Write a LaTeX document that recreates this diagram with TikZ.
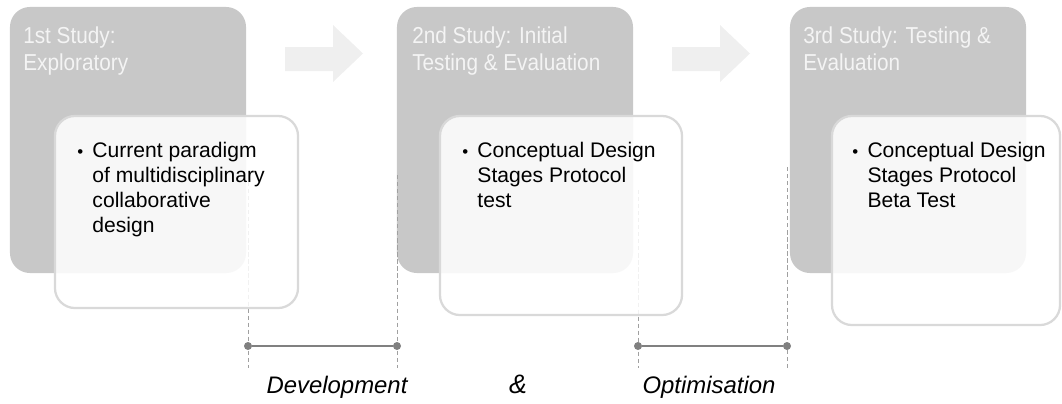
\documentclass[tikz,border=0pt]{standalone}
\usepackage{fontspec}
\setmainfont{Liberation Sans}
\newfontfamily\headfont{Liberation Sans}[FakeStretch=0.9]
\usepackage{tikz}
\usetikzlibrary{calc,positioning}
\definecolor{boxgray}{HTML}{C8C8C8}
\definecolor{arrowgray}{HTML}{EFEFEF}
\definecolor{edgegray}{HTML}{D9D9D9}
\definecolor{dashgray}{HTML}{A0A0A0}
\definecolor{bargray}{HTML}{808080}
\definecolor{headwhite}{HTML}{F4F4F4}
\newcommand{\bulletline}[1]{\begin{tabular}{@{}p{0.38cm}@{}l@{}}{\fontsize{12}{17.8}\selectfont\textbullet} & #1\end{tabular}}
\tikzset{
  studybox/.style={fill=boxgray, rounded corners=0.5cm, minimum width=5.9cm, minimum height=6.65cm, inner sep=0},
  notebox/.style={draw=edgegray, line width=1.6pt, fill=white, fill opacity=0.86, rounded corners=0.5cm, inner sep=0},
  headtext/.style={anchor=north west, inner sep=0, align=left, text=headwhite, font=\headfont\fontsize{16.4}{18.5}\selectfont},
  bodytext/.style={anchor=north west, inner sep=0, font=\fontsize{15}{17.8}\selectfont},
  steplabel/.style={anchor=base, inner sep=0, font=\fontsize{17}{20}\selectfont\itshape},
  dot/.style={circle, fill=bargray, inner sep=0, minimum size=0.2cm},
  bar/.style={draw=bargray, line width=2pt},
  guide/.style={draw=dashgray, densely dashed, line width=0.4pt}
}
\begin{document}
\begin{tikzpicture}[x=0.025cm, y=-0.025cm]
		\useasboundingbox (0,0) rectangle (1062,403);
		\node[studybox] (s1) at (128,140) {};
		\node[studybox] (s2) at (515,140) {};
		\node[studybox] (s3) at (908,140) {};
		\fill[arrowgray] (285,47) -- (333,47) -- (333,25) -- (363,53.5) -- (333,82) -- (333,71) -- (285,71) -- cycle;
		\fill[arrowgray] (672,47) -- (720,47) -- (720,25) -- (750,53.5) -- (720,82) -- (720,71) -- (672,71) -- cycle;
		\coordinate (t1) at (248,175);
		\coordinate (t2) at (397,175);
		\coordinate (t3) at (638,190);
		\coordinate (t4) at (787,167);
		\coordinate (b1) at (248,368);
		\coordinate (b2) at (397,368);
		\coordinate (b3) at (638,368);
		\coordinate (b4) at (787,368);
		\foreach \i in {1,...,4} \draw[guide] (t\i) to (b\i);
		\node[notebox, minimum width=6.075cm, minimum height=4.8cm] (n1) at (176.5,212) {};
		\node[notebox, minimum width=6.05cm, minimum height=4.975cm] (n2) at (561,215.5) {};
		\node[notebox, minimum width=5.7cm, minimum height=5.225cm] (n3) at (946,220.5) {};
		\node[headtext] (h1) at (23,27) {1st Study:\\Exploratory};
		\node[headtext] (h2) at (412,27) {2nd Study: Initial\\Testing \& Evaluation};
		\node[headtext] (h3) at (803,27) {3rd Study: Testing \&\\Evaluation};
		\node[bodytext] (c1) at (77,139.5) {\bulletline{Current paradigm\\ & of multidisciplinary\\ & collaborative\\ & design}};
		\node[bodytext] (c2) at (462,139.5) {\bulletline{Conceptual Design\\ & Stages Protocol\\ & test}};
		\node[bodytext] (c3) at (852,139.5) {\bulletline{Conceptual Design\\ & Stages Protocol\\ & Beta Test}};
		\node[dot] (d1) at (248,346) {};
		\node[dot] (d2) at (397,346) {};
		\node[dot] (d3) at (638,346) {};
		\node[dot] (d4) at (787,346) {};
		\draw[bar] (d1) to (d2);
		\draw[bar] (d3) to (d4);
		\node[steplabel] (dev) at (337,393) {Development};
		\node[steplabel, font=\fontsize{19}{20}\selectfont\itshape] (amp) at (518,393) {\&};
		\node[steplabel] (opt) at (709,393) {Optimisation};
	\end{tikzpicture}
\end{document}
